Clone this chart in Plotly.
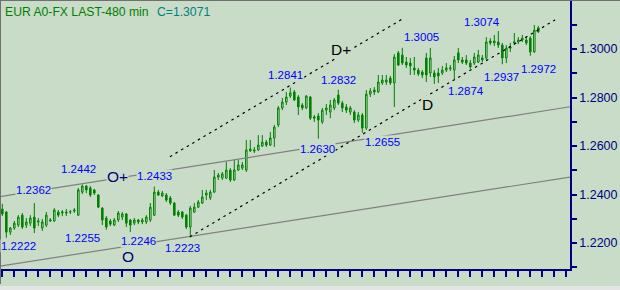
import plotly.graph_objects as go

# ---------------- data (EUR 480-min candles) ----------------
opens = [1.2340,1.2328,1.2245,1.2262,1.2274,1.2315,1.2274,1.2282,1.2307,1.2287,
         1.2262,1.2274,1.2291,1.2291,1.2328,1.2324,1.2328,1.2328,1.2332,1.2315,
         1.2410,1.2435,1.2427,1.2419,1.2398,1.2344,1.2303,1.2291,1.2274,1.2295,
         1.2307,1.2320,1.2295,1.2282,1.2295,1.2287,1.2287,1.2295,1.2315,1.2410,
         1.2394,1.2398,1.2386,1.2365,1.2328,1.2328,1.2315,1.2266,1.2328,1.2348,
         1.2365,1.2398,1.2386,1.2410,1.2472,1.2468,1.2468,1.2501,1.2460,1.2501,
         1.2509,1.2501,1.2580,1.2584,1.2584,1.2600,1.2616,1.2604,1.2633,1.2687,
         1.2757,1.2781,1.2806,1.2823,1.2802,1.2769,1.2757,1.2802,1.2720,1.2724,
         1.2699,1.2748,1.2740,1.2757,1.2810,1.2777,1.2761,1.2740,1.2740,1.2707,
         1.2728,1.2674,1.2814,1.2831,1.2823,1.2860,1.2864,1.2880,1.2860,1.2984,
         1.2975,1.2946,1.2942,1.2922,1.2913,1.2905,1.2963,1.2901,1.2901,1.2901,
         1.2901,1.2913,1.2918,1.2913,1.2984,1.2955,1.2955,1.2942,1.2942,1.2946,
         1.2963,1.2963,1.3033,1.3025,1.3029,1.3016,1.2963,1.3008,1.3025,1.3029,
         1.3037,1.3037,1.3045,1.2988,1.3087]
highs = [1.2362,1.2332,1.2266,1.2291,1.2315,1.2324,1.2303,1.2315,1.2365,1.2303,
         1.2299,1.2328,1.2303,1.2344,1.2336,1.2336,1.2340,1.2336,1.2344,1.2427,
         1.2442,1.2439,1.2435,1.2423,1.2402,1.2348,1.2311,1.2299,1.2303,1.2332,
         1.2328,1.2324,1.2299,1.2303,1.2299,1.2303,1.2315,1.2365,1.2433,1.2419,
         1.2415,1.2406,1.2394,1.2369,1.2336,1.2332,1.2320,1.2353,1.2365,1.2377,
         1.2419,1.2419,1.2419,1.2501,1.2489,1.2493,1.2534,1.2509,1.2542,1.2542,
         1.2534,1.2625,1.2625,1.2596,1.2645,1.2645,1.2625,1.2658,1.2687,1.2765,
         1.2798,1.2823,1.2841,1.2831,1.2810,1.2777,1.2810,1.2806,1.2728,1.2736,
         1.2757,1.2773,1.2790,1.2798,1.2832,1.2786,1.2773,1.2765,1.2748,1.2740,
         1.2736,1.2831,1.2839,1.2843,1.2893,1.2893,1.2893,1.2889,1.2979,1.2992,
         1.3005,1.2967,1.2963,1.2967,1.2922,1.2913,1.2984,1.3004,1.2913,1.2922,
         1.2930,1.2942,1.2934,1.2971,1.3004,1.2967,1.2975,1.2955,1.2984,1.2996,
         1.2975,1.3049,1.3045,1.3058,1.3074,1.3025,1.3016,1.3025,1.3066,1.3049,
         1.3058,1.3049,1.3053,1.3099,1.3095]
lows =  [1.2311,1.2222,1.2233,1.2254,1.2266,1.2258,1.2262,1.2270,1.2241,1.2270,
         1.2250,1.2266,1.2287,1.2287,1.2307,1.2311,1.2311,1.2320,1.2324,1.2311,
         1.2402,1.2406,1.2390,1.2398,1.2344,1.2274,1.2255,1.2270,1.2270,1.2287,
         1.2295,1.2266,1.2246,1.2274,1.2278,1.2278,1.2278,1.2287,1.2311,1.2394,
         1.2390,1.2369,1.2357,1.2311,1.2307,1.2299,1.2258,1.2223,1.2324,1.2344,
         1.2361,1.2377,1.2377,1.2406,1.2460,1.2460,1.2464,1.2452,1.2456,1.2497,
         1.2501,1.2493,1.2575,1.2571,1.2580,1.2596,1.2596,1.2600,1.2596,1.2678,
         1.2748,1.2769,1.2798,1.2786,1.2728,1.2748,1.2752,1.2707,1.2699,1.2630,
         1.2691,1.2728,1.2715,1.2748,1.2769,1.2740,1.2736,1.2728,1.2695,1.2699,
         1.2655,1.2666,1.2802,1.2810,1.2819,1.2852,1.2852,1.2852,1.2761,1.2930,
         1.2934,1.2922,1.2893,1.2893,1.2889,1.2880,1.2864,1.2885,1.2856,1.2860,
         1.2893,1.2905,1.2909,1.2874,1.2942,1.2938,1.2934,1.2918,1.2934,1.2942,
         1.2946,1.2955,1.3016,1.3012,1.3004,1.2937,1.2942,1.2988,1.3016,1.3020,
         1.3029,1.3016,1.2972,1.2984,1.3066]
closes = [1.2320,1.2245,1.2262,1.2282,1.2307,1.2266,1.2287,1.2303,1.2262,1.2291,
          1.2287,1.2315,1.2295,1.2336,1.2315,1.2328,1.2324,1.2329,1.2336,1.2419,
          1.2435,1.2419,1.2398,1.2406,1.2348,1.2295,1.2266,1.2278,1.2295,1.2324,
          1.2320,1.2282,1.2274,1.2295,1.2287,1.2295,1.2307,1.2348,1.2410,1.2398,
          1.2406,1.2377,1.2365,1.2315,1.2315,1.2307,1.2266,1.2344,1.2348,1.2369,
          1.2390,1.2406,1.2410,1.2472,1.2480,1.2485,1.2501,1.2460,1.2501,1.2522,
          1.2522,1.2584,1.2588,1.2580,1.2604,1.2616,1.2604,1.2633,1.2678,1.2757,
          1.2781,1.2802,1.2819,1.2790,1.2761,1.2757,1.2806,1.2715,1.2715,1.2707,
          1.2748,1.2757,1.2769,1.2790,1.2777,1.2757,1.2748,1.2757,1.2707,1.2728,
          1.2674,1.2814,1.2827,1.2823,1.2864,1.2872,1.2872,1.2860,1.2967,1.2934,
          1.2942,1.2934,1.2930,1.2913,1.2897,1.2893,1.2893,1.2963,1.2885,1.2889,
          1.2913,1.2922,1.2922,1.2955,1.2955,1.2946,1.2942,1.2926,1.2967,1.2975,
          1.2955,1.3029,1.3025,1.3033,1.3016,1.2963,1.3004,1.3004,1.3029,1.3037,
          1.3045,1.3025,1.2988,1.3078,1.3071]
bars = list(range(len(closes)))

# swing points labelled on the chart
pivot_bar   = [1, 0, 20, 26, 32, 38, 47, 72, 79, 84, 90, 100, 113, 124, 125, 132]
pivot_price = [1.2222, 1.2362, 1.2442, 1.2255, 1.2246, 1.2433, 1.2223, 1.2841,
               1.2630, 1.2832, 1.2655, 1.3005, 1.2874, 1.3074, 1.2937, 1.2972]

# trend channels (bar index, price)
d_upper_x, d_upper_y = [41.9, 99.85], [1.2556, 1.3122]
d_lower_x, d_lower_y = [46.9, 138.2], [1.2226, 1.3120]
o_upper_x, o_upper_y = [-0.58, 141.92], [1.2391, 1.2762]
o_lower_x, o_lower_y = [-0.58, 141.92], [1.2105, 1.2472]

channel_text = ["O+", "O", "D+", "D"]
channel_bar = [28.7, 31.4, 84.7, 106.3]
channel_price = [1.2474, 1.2146, 1.3000, 1.2771]

y_ticks = [1.22, 1.24, 1.26, 1.28, 1.30]
y_ticklabels = ["1.2200", "1.2400", "1.2600", "1.2800", "1.3000"]

# ---------------- styling ----------------
BG = "#C8DCC8"
GREEN = "#008000"
NAVY = "#000080"
FONT = "Liberation Sans, Arial, sans-serif"

fig = go.Figure()

fig.add_trace(go.Scatter(x=o_upper_x, y=o_upper_y, mode="lines",
                         line=dict(color="#808080", width=1.2), hoverinfo="skip"))
fig.add_trace(go.Scatter(x=o_lower_x, y=o_lower_y, mode="lines",
                         line=dict(color="#808080", width=1.2), hoverinfo="skip"))
fig.add_trace(go.Scatter(x=d_upper_x, y=d_upper_y, mode="lines",
                         line=dict(color="black", width=1.2, dash="2.5px,4px"), hoverinfo="skip"))
fig.add_trace(go.Scatter(x=d_lower_x, y=d_lower_y, mode="lines",
                         line=dict(color="black", width=1.2, dash="2.5px,4px"), hoverinfo="skip"))

fig.add_trace(go.Candlestick(
    x=bars, open=opens, high=highs, low=lows, close=closes,
    increasing=dict(line=dict(color=GREEN, width=1), fillcolor=BG),
    decreasing=dict(line=dict(color=GREEN, width=1), fillcolor=GREEN),
    whiskerwidth=0,
))

# price labels
offsets = [(11.7, -8.3), (30.7, 13.7), (-4.3, 15.8), (-24.3, -8.3), (8.2, -9.2),
           (0.2, 11), (-8.3, -10.6), (-5.3, 12.6), (-0.8, -9.8), (-0.3, 9.7),
           (19.7, -9.3), (19.2, 10.8), (11.7, -11.9), (-16.3, 9), (-0.8, -13.2),
           (7.7, -13.2)]
annotations = []
for b, p, (dx, dy) in zip(pivot_bar, pivot_price, offsets):
    annotations.append(dict(x=b, y=p, xref="x", yref="y", text=f"{p:.4f}",
                            showarrow=False, xanchor="center", yanchor="middle",
                            xshift=dx, yshift=dy, bgcolor=BG, borderpad=0,
                            font=dict(family=FONT, size=11.5, color="#0000FF")))
for t, b, p in zip(channel_text, channel_bar, channel_price):
    annotations.append(dict(x=b, y=p, xref="x", yref="y", text=t, showarrow=False,
                            xanchor="center", yanchor="middle", bgcolor=BG, borderpad=0,
                            font=dict(family=FONT, size=15.5,
                                      color=NAVY if t.startswith("O") else "black")))
# header
annotations.append(dict(x=3 / 570, y=1 - 3 / 269, xref="paper", yref="paper",
                        text="EUR A0-FX LAST-480 min", showarrow=False,
                        xanchor="left", yanchor="top",
                        font=dict(family=FONT, size=12.2, color=GREEN)))
annotations.append(dict(x=155 / 570, y=1 - 3 / 269, xref="paper", yref="paper",
                        text="C=" + f"{closes[-1]:.4f}", showarrow=False,
                        xanchor="left", yanchor="top",
                        font=dict(family=FONT, size=12.2, color="#008080")))

shapes = [
    dict(type="rect", xref="paper", yref="paper", x0=0, x1=620 / 570,
         y0=-17 / 269, y1=-21 / 269, fillcolor="#E4E4E4", line=dict(width=0)),
    dict(type="line", xref="paper", yref="paper", x0=0, x1=620 / 570,
         y0=1, y1=1, line=dict(color="#707070", width=2)),
    dict(type="line", xref="paper", yref="paper", x0=0, x1=0,
         y0=-15 / 269, y1=1, line=dict(color="#707070", width=2)),
]

fig.update_layout(
    width=620, height=290,
    margin=dict(l=0, r=50, t=0, b=21),
    paper_bgcolor=BG, plot_bgcolor=BG,
    showlegend=False,
    boxgap=0.45,
    annotations=annotations,
    shapes=shapes,
    xaxis=dict(range=[-0.58, 141.92], rangeslider=dict(visible=False),
               showgrid=False, zeroline=False, showline=True, linecolor=NAVY,
               linewidth=1.5, ticks="outside", ticklen=6, tickcolor=NAVY,
               tickwidth=1.5, tick0=0, dtick=3, showticklabels=False),
    yaxis=dict(range=[1.2093, 1.3202], side="right", showgrid=False,
               zeroline=False, showline=True, linecolor=NAVY, linewidth=1.5,
               ticks="outside", ticklen=5, tickcolor=NAVY, tickwidth=1.5,
               tickvals=y_ticks, ticktext=y_ticklabels,
               tickfont=dict(family=FONT, size=12.5, color=NAVY),
               minor=dict(dtick=0.01, tick0=1.21, ticks="outside", ticklen=5,
                          tickcolor=NAVY, tickwidth=1.5)),
)

fig.write_html("out.html")
